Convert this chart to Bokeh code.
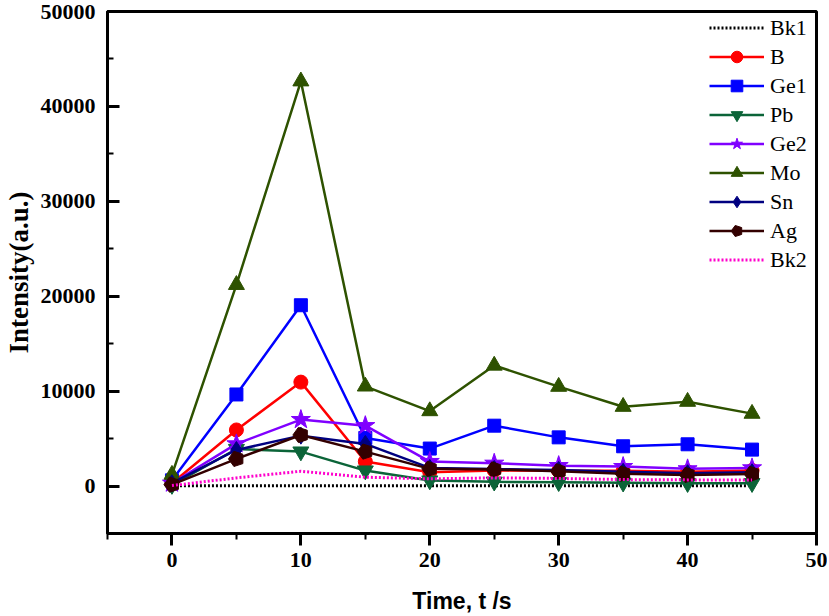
import math
from bokeh.plotting import figure
from bokeh.models import Range1d, SingleIntervalTicker, Legend
from bokeh.embed import file_html
from bokeh.resources import INLINE

# ---- data ----
t = [0, 5, 10, 15, 20, 25, 30, 35, 40, 45]
bk1 = [30, 40, 40, 30, 30, 30, 30, 30, 30, 30]
b = [300, 5910, 10950, 2580, 1450, 1650, 1600, 1600, 1500, 1650]
ge1 = [600, 9650, 19050, 5070, 3950, 6360, 5130, 4190, 4400, 3840]
pb = [100, 3900, 3630, 1630, 580, 450, 400, 350, 300, 300]
ge2 = [300, 4440, 7000, 6360, 2580, 2400, 2150, 2050, 1810, 1910]
mo = [1200, 21200, 42650, 10500, 7900, 12700, 10470, 8360, 8890, 7630]
sn = [300, 3800, 5310, 4440, 1910, 1800, 1700, 1500, 1350, 1450]
ag = [150, 2860, 5380, 3630, 1810, 1750, 1550, 1300, 1170, 1280]
bk2 = [50, 860, 1560, 930, 760, 860, 800, 680, 650, 650]

series = [
    ("Bk1", bk1, "#000000", None, 0, "2 2"),
    ("B", b, "#FF0000", "circle", 14, "solid"),
    ("Ge1", ge1, "#0000FF", "square", 13, "solid"),
    ("Pb", pb, "#0B6438", "inverted_triangle", 16, "solid"),
    ("Ge2", ge2, "#8000FF", "star", 20, "solid"),
    ("Mo", mo, "#2E5200", "triangle", 16, "solid"),
    ("Sn", sn, "#000080", "diamond", 17, "solid"),
    ("Ag", ag, "#330000", "pentagon", 8, "solid"),
    ("Bk2", bk2, "#FF00CC", None, 0, "2 2"),
]

p = figure(width=827, height=616, output_backend="svg", toolbar_location=None,
           x_range=Range1d(-5, 50), y_range=Range1d(-5000, 50000),
           min_border_left=104, min_border_right=11, min_border_top=11, min_border_bottom=83)
p.background_fill_color = "white"
p.border_fill_color = "white"
p.xgrid.visible = False
p.ygrid.visible = False
p.outline_line_color = "black"
p.outline_line_width = 3

items = []
for name, ys, col, mk, sz, dash in series:
    rs = []
    lw = 3 if dash != "solid" else 2.5
    rs.append(p.line(t, ys, line_color=col, line_width=lw, line_dash=dash))
    if mk == "pentagon":
        rs.append(p.ngon(x=t, y=ys, radius=sz, radius_units="screen", n=5,
                         angle=math.pi / 2, fill_color=col, line_color=col))
    elif mk:
        rs.append(p.scatter(t, ys, marker=mk, size=sz, fill_color=col, line_color=col))
    items.append((name, rs))

legend = Legend(items=items, location="top_right")
legend.label_text_font = "Liberation Serif"
legend.label_text_font_size = "22px"
legend.label_text_color = "black"
legend.glyph_width = 55
legend.glyph_height = 29
legend.label_height = 29
legend.label_width = 44
legend.spacing = 0
legend.padding = 2
legend.margin = 0
legend.label_standoff = 6
legend.border_line_alpha = 0
legend.background_fill_alpha = 0
p.add_layout(legend)

xa = p.xaxis[0]
xa.ticker = SingleIntervalTicker(interval=10, num_minor_ticks=2)
xa.major_tick_in = 0
xa.major_tick_out = 12
xa.minor_tick_in = 0
xa.minor_tick_out = 6
ya = p.yaxis[0]
ya.ticker = SingleIntervalTicker(interval=10000, num_minor_ticks=2)
ya.major_tick_in = 12
ya.major_tick_out = 0
ya.minor_tick_in = 6
ya.minor_tick_out = 0
for ax in (xa, ya):
    ax.axis_line_width = 3
    ax.major_tick_line_width = 3
    ax.minor_tick_line_width = 2
    ax.axis_line_color = "black"
    ax.major_tick_line_color = "black"
    ax.minor_tick_line_color = "black"
    ax.major_label_text_font = "Liberation Serif"
    ax.major_label_text_font_style = "bold"
    ax.major_label_text_font_size = "22px"
    ax.major_label_text_color = "black"
    ax.axis_label_text_color = "black"
    ax.axis_label_text_font_style = "bold"
xa.major_label_standoff = 7
ya.major_label_standoff = 12

xa.axis_label = "Time, t /s"
xa.axis_label_text_font = "Liberation Sans"
xa.axis_label_text_font_size = "23px"
xa.axis_label_standoff = 18
ya.axis_label = "Intensity(a.u.)"
ya.axis_label_text_font = "Liberation Serif"
ya.axis_label_text_font_size = "27px"
ya.axis_label_standoff = 4

open("out.html", "w").write(file_html(p, INLINE))
